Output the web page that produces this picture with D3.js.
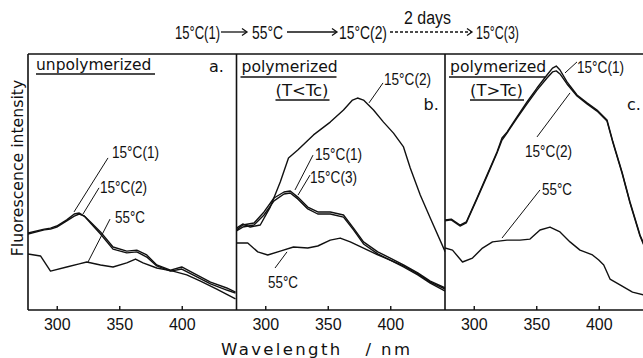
<!DOCTYPE html>
<html><head><meta charset="utf-8">
<script src="https://cdn.jsdelivr.net/npm/d3@7"></script>
<style>
html,body{margin:0;padding:0;background:#fff;}
svg{display:block;}
</style></head>
<body>
<svg id="chart" width="643" height="358"></svg>
<script>
// ---------- DATA ----------
const panelIds = ["a", "b", "c"];
const panelTitles = [["unpolymerized"], ["polymerized", "(T<Tc)"], ["polymerized", "(T>Tc)"]];
const xTicks = [300, 350, 400];
const xDomain = [277, 444];
const yDomain = [0, 100];

// Panel a
const aWl1 = [277,290,295,300,308,314,318,322,327,335,345,356,364,372,380,391,400,409,423,436,443];
const aC15_1 = [30.1,31.6,32.0,32.8,35.2,37.5,37.9,36.7,34.4,30.5,24.6,23.0,23.4,21.5,17.6,15.6,16.8,14.5,10.9,8.6,7.0];
const aC15_2 = [29.7,31.3,31.6,32.4,34.8,36.7,37.5,36.7,34.0,29.7,23.8,22.3,22.7,20.7,17.2,15.2,16.0,13.7,10.2,7.8,6.6];
const aWl55 = [277,287,295,308,318,324,335,345,356,363,369,380,393,404,415,428,443];
const aC55 = [21.9,21.1,15.2,16.8,18.0,18.75,17.6,16.8,18.4,19.9,18.4,16.4,15.2,13.7,11.3,8.2,4.3];

// Panel b
const bWl2 = [277,282,288,296,304,312,318.6,326,338.6,352,362.6,369.8,373.8,378.6,386.6,394.6,402.6,410.6,416,424,432,444];
const bC15_2 = [32.0,33.6,32.4,33.2,40.2,50.0,59.4,62.5,68.4,73.4,78.1,82.0,82.8,82.0,78.1,73.4,69.1,63.7,55.5,44.9,35.9,22.7];
const bWl13 = [277,282,291,299,307,315,320,326,334,342,352,362.6,370.6,378.6,390,400,410.6,422,432,444];
const bC15_1 = [31.3,33.2,34.0,38.3,43.75,46.1,46.5,44.1,40.2,38.3,38.3,37.1,32.0,26.6,22.7,20.3,17.6,14.5,11.3,8.6];
const bC15_3 = [30.9,32.4,33.2,37.1,42.6,45.3,45.7,43.4,39.5,37.5,37.5,36.3,31.3,25.8,21.9,19.5,17.2,14.1,10.9,8.2];
const bWl55 = [277,286,294,302,312,322.6,334,342,352,360,368,378.6,390,400,410.6,422,432,444];
const bC55 = [26.2,26.2,22.7,21.5,23.0,24.6,24.2,25.0,27.3,28.1,26.6,24.2,21.5,19.5,16.8,13.7,10.5,7.4];

// Panel c
const cWl12 = [277,282,289,294,302.6,310.6,318.6,322.6,326.6,334.6,342.6,350.6,358.6,363,366,369,374.6,382.6,390.6,398.6,406.6,411.4,418.6,425,433,436];
const cC15_1 = [35.2,35.5,33.2,34.4,43.75,52.7,61.7,67.2,69.5,75.4,81.25,86.7,91.8,94.5,95.3,93.75,89.1,84.0,80.9,78.1,74.2,65.6,53.9,42.2,29.3,25.8];
const cC15_2 = [34.8,35.2,32.8,34.0,43.4,52.3,61.3,66.4,69.1,75.0,80.5,85.9,90.6,93.0,93.4,92.2,88.3,83.6,80.5,77.7,73.8,65.2,53.5,41.8,28.9,25.4];
const cWl55 = [277,283,291,299,307,315,326.6,337,345,353,361,369,377,385,395,400,404,409,417,427,436];
const cC55 = [24.2,23.4,18.75,20.3,24.2,26.6,27.3,27.3,27.7,31.25,32.4,30.5,26.6,23.4,21.5,19.5,17.6,12.1,9.8,7.0,5.9];

const panelSeries = [
  [[aWl1, aC15_1], [aWl1, aC15_2], [aWl55, aC55]],
  [[bWl2, bC15_2], [bWl13, bC15_1], [bWl13, bC15_3], [bWl55, bC55]],
  [[cWl12, cC15_1], [cWl12, cC15_2], [cWl55, cC55]]
];

// curve labels: [text, textWl, textI, leaderWl1, leaderI1, leaderWl2, leaderI2]
const panelLabels = [
  [["15°C(1)", 344.2, 59.4, 313.8, 38.3, 341, 59.4],
   ["15°C(2)", 334.6, 45.7, 321, 37.5, 333.8, 47.7],
   ["55°C", 346.6, 34.0, 325, 18.75, 342.6, 35.5]],
  [["15°C(2)", 395, 87.9, 383, 80.9, 394.2, 88.7],
   ["15°C(1)", 339.8, 58.6, 323.8, 46.9, 338.2, 60.5],
   ["15°C(3)", 335.8, 49.6, 326.2, 44.9, 335.8, 52.7],
   ["55°C", 302.2, 8.6, 317.4, 22.7, 307.8, 16.4]],
  [["15°C(1)", 382.6, 92.6, 373, 92.6, 382.6, 96.9],
   ["15°C(2)", 341, 59.8, 350.6, 67.6, 377, 84.8],
   ["55°C", 354.6, 44.9, 322.6, 28.1, 353, 46.9]]
];

const headerSteps = ["15°C(1)", "55°C", "15°C(2)", "15°C(3)"];
const headerNote = "2 days";
const yLabel = "Fluorescence intensity";
const xLabel = "Wavelength   / nm";

// ---------- LAYOUT ----------
const W = 643, H = 358;
const plotTop = 54, plotBottom = 310;
const panelLeft = [28, 236.5, 445];
const panelW = 208.75;
const svg = d3.select("#chart");
const ink = "#111";
const sansFont = "'DejaVu Sans', sans-serif";
const numFont = "'Liberation Sans', Arial, sans-serif";

const y = d3.scaleLinear().domain(yDomain).range([plotBottom, plotTop]);

svg.append("defs").selectAll("clipPath").data(panelLeft).join("clipPath")
  .attr("id", (d,i) => "clip" + i)
  .append("rect").attr("x", d => d).attr("y", plotTop).attr("width", panelW).attr("height", plotBottom - plotTop);

panelLeft.forEach((left, pi) => {
  const x = d3.scaleLinear().domain(xDomain).range([left, left + panelW]);
  const g = svg.append("g");
  const ax = g.append("g").attr("transform", `translate(0,${plotBottom})`)
    .call(d3.axisBottom(x).tickValues(xTicks).tickSizeInner(-4).tickSizeOuter(0).tickPadding(8.5));
  ax.select(".domain").remove();
  ax.selectAll(".tick line").attr("stroke", ink).attr("stroke-width", 1.4);
  ax.selectAll(".tick text").attr("font-family", numFont).attr("font-size", 16).attr("fill", ink);

  const line = d3.line().x(d => x(d[0])).y(d => y(d[1])).curve(d3.curveLinear);
  const cg = g.append("g").attr("clip-path", `url(#clip${pi})`);
  panelSeries[pi].forEach(([wl, val]) => {
    cg.append("path").datum(wl.map((w, k) => [w, val[k]]))
      .attr("d", line).attr("fill", "none").attr("stroke", ink)
      .attr("stroke-width", 1.4).attr("stroke-linejoin", "round");
  });

  panelLabels[pi].forEach(([t, tw, ti, l1w, l1i, l2w, l2i]) => {
    g.append("line").attr("x1", x(l1w)).attr("y1", y(l1i)).attr("x2", x(l2w)).attr("y2", y(l2i))
      .attr("stroke", ink).attr("stroke-width", 1);
    g.append("text").attr("x", x(tw)).attr("y", y(ti)).text(t)
      .attr("font-family", numFont).attr("font-size", 17).attr("fill", ink)
      .attr("textLength", t.length > 5 ? 47 : 30).attr("lengthAdjust", "spacingAndGlyphs");
  });

  const titles = panelTitles[pi];
  if (pi === 0) {
    g.append("text").attr("x", left + 8).attr("y", 70).text(titles[0])
      .attr("font-family", sansFont).attr("font-size", 15.5).attr("fill", ink);
    g.append("line").attr("x1", left + 8).attr("x2", left + 127).attr("y1", 74).attr("y2", 74)
      .attr("stroke", ink).attr("stroke-width", 1.4);
  } else {
    g.append("text").attr("x", left + 5).attr("y", 72).text(titles[0])
      .attr("font-family", sansFont).attr("font-size", 15.6).attr("fill", ink);
    g.append("line").attr("x1", left + 4).attr("x2", left + 100).attr("y1", 77).attr("y2", 77)
      .attr("stroke", ink).attr("stroke-width", 1.4);
    const sx = pi === 1 ? 39 : 25;
    g.append("text").attr("x", left + sx).attr("y", 96).text(titles[1])
      .attr("font-family", sansFont).attr("font-size", 15.6).attr("fill", ink)
      .attr("textLength", 53).attr("lengthAdjust", "spacingAndGlyphs");
    g.append("line").attr("x1", left + sx).attr("x2", left + sx + 54).attr("y1", 100).attr("y2", 100)
      .attr("stroke", ink).attr("stroke-width", 1.4);
  }
  const idX = pi === 0 ? left + 181 : (pi === 1 ? left + 187 : left + 182);
  const idY = pi === 0 ? 72 : 110;
  g.append("text").attr("x", idX).attr("y", idY).text(panelIds[pi] + ".")
    .attr("font-family", sansFont).attr("font-size", 16).attr("fill", ink);
});

const frame = svg.append("g").attr("stroke", ink).attr("stroke-width", 1.6).attr("fill", "none");
frame.append("line").attr("x1", 28).attr("x2", W).attr("y1", plotTop).attr("y2", plotTop);
frame.append("line").attr("x1", 28).attr("x2", W).attr("y1", plotBottom).attr("y2", plotBottom);
panelLeft.forEach(l => frame.append("line").attr("x1", l).attr("x2", l).attr("y1", plotTop).attr("y2", plotBottom));

svg.append("text").attr("transform", "translate(23,168) rotate(-90)").attr("text-anchor", "middle")
  .text(yLabel).attr("font-family", sansFont).attr("font-size", 15.7).attr("fill", ink);
svg.append("text").attr("x", 221).attr("y", 355).text(xLabel)
  .attr("xml:space", "preserve").style("white-space", "pre")
  .attr("font-family", sansFont).attr("font-size", 16.5).attr("fill", ink)
  .attr("textLength", 189).attr("lengthAdjust", "spacing");

const hdr = svg.append("g");
const hx = [[175, 45], [252, 31], [339, 48], [476, 43]];
headerSteps.forEach((t, i) => {
  hdr.append("text").attr("x", hx[i][0]).attr("y", 39).text(t)
    .attr("font-family", numFont).attr("font-size", 19).attr("fill", ink)
    .attr("textLength", hx[i][1]).attr("lengthAdjust", "spacingAndGlyphs");
});
hdr.append("text").attr("x", 404).attr("y", 24).text(headerNote)
  .attr("font-family", numFont).attr("font-size", 18).attr("fill", ink)
  .attr("textLength", 47).attr("lengthAdjust", "spacingAndGlyphs");
const arrows = [[221, 247, false], [287, 337, false], [390, 472, true]];
arrows.forEach(([x1, x2, dash]) => {
  hdr.append("line").attr("x1", x1).attr("x2", x2 - 1).attr("y1", 32).attr("y2", 32)
    .attr("stroke", ink).attr("stroke-width", 1.3).attr("stroke-dasharray", dash ? "3,2" : null);
  hdr.append("path").attr("d", `M${x2 - 5},28.5 L${x2},32 L${x2 - 5},35.5`)
    .attr("fill", "none").attr("stroke", ink).attr("stroke-width", 1.3);
});
</script>
</body></html>
